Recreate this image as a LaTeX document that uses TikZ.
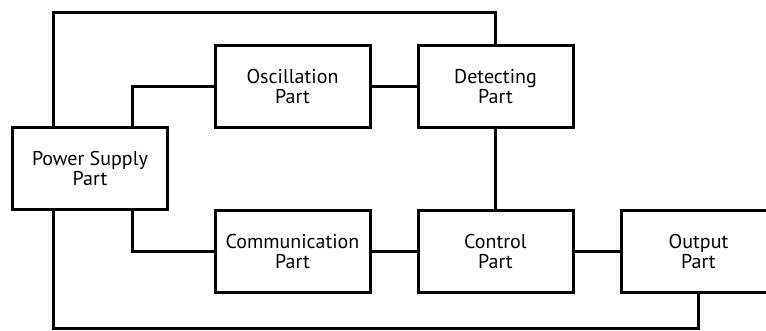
\documentclass[tikz,border=0pt]{standalone}
\usepackage{fontspec}
\setmainfont{PT Sans}
\usetikzlibrary{calc}

\tikzset{
  part/.style={draw, line width=1.5pt, minimum width=77.5pt, minimum height=41pt,
    align=center, inner sep=2pt, font=\fontsize{10}{10}\selectfont},
  wire/.style={line width=1.5pt}
}

\begin{document}
\begin{tikzpicture}[x=0.5pt, y=-0.5pt]
    \useasboundingbox (0,0) rectangle (766,331);

    % Blocks
    \node[part] (ps)   at (90,168.5)  {Power Supply\\Part};
    \node[part] (osc)  at (292.5,86.5) {Oscillation\\Part};
    \node[part] (det)  at (495.5,86.5) {Detecting\\Part};
    \node[part] (comm) at (292.5,252)  {Communication\\Part};
    \node[part] (ctrl) at (495.5,252)  {Control\\Part};
    \node[part] (out)  at (698.5,252)  {Output\\Part};

    % Rails above and below
    \coordinate (topy) at (0,13);
    \coordinate (boty) at (0,329);

    % Connections
    \draw[wire] ([xshift=21pt]ps.north west) |- (topy -| det) -- (det);
    \draw[wire] ([xshift=-18.5pt]ps.north east) |- (osc);
    \draw[wire] (osc) -- (det);
    \draw[wire] (det) -- (ctrl);
    \draw[wire] ([xshift=-18.5pt]ps.south east) |- (comm);
    \draw[wire] (comm) -- (ctrl);
    \draw[wire] (ctrl) -- (out);
    \draw[wire] ([xshift=21pt]ps.south west) |- (boty -| out) -- (out);
\end{tikzpicture}
\end{document}
